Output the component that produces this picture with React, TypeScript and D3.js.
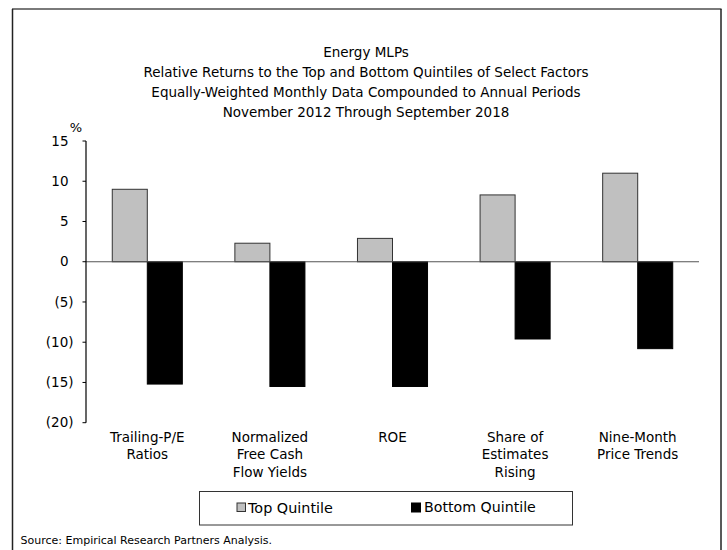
import React from "react";
import * as d3 from "d3";

const titleLines = [
  "Energy MLPs",
  "Relative Returns to the Top and Bottom Quintiles of Select Factors",
  "Equally-Weighted Monthly Data Compounded to Annual Periods",
  "November 2012 Through September 2018",
];
const categories = ["Trailing-P/E", "Normalized", "ROE", "Share of", "Nine-Month"];
const categoryLabels = [
  ["Trailing-P/E", "Ratios"],
  ["Normalized", "Free Cash", "Flow Yields"],
  ["ROE"],
  ["Share of", "Estimates", "Rising"],
  ["Nine-Month", "Price Trends"],
];
const seriesNames = ["Top Quintile", "Bottom Quintile"];
const topQuintile = [9.0, 2.3, 2.9, 8.3, 11.0];
const bottomQuintile = [-15.2, -15.5, -15.5, -9.6, -10.8];
const yTicks = [15, 10, 5, 0, -5, -10, -15, -20];
const sourceText = "Source: Empirical Research Partners Analysis.";

const W = 727;
const H = 550;
const FONT = "'DejaVu Sans', Verdana, sans-serif";
const fills = ["#c0c0c0", "#000000"];

export default function App() {
  const y = d3.scaleLinear().domain([-20, 15]).range([422.7, 141]);
  const x0 = d3.scaleBand<string>().domain(categories).range([86, 699]).padding(0);
  const x1 = d3
    .scaleBand<string>()
    .domain(seriesNames)
    .range([0, x0.bandwidth()])
    .paddingInner(0)
    .paddingOuter(0.75);
  const values = [topQuintile, bottomQuintile];
  const fmt = (v: number) => (v < 0 ? `(${Math.abs(v)})` : `${v}`);

  return (
    <svg
      width={W}
      height={H}
      style={{ position: "absolute", left: 0, top: 0, background: "#fff" }}
      fontFamily={FONT}
    >
      <rect x={0} y={0} width={W} height={H} fill="#fff" />
      {/* frame */}
      <line x1={12} x2={721.5} y1={9} y2={9} stroke="#7a7a7a" strokeWidth={2} />
      <line x1={12.5} x2={12.5} y1={9} y2={H} stroke="#222" strokeWidth={1.5} />
      <line x1={721} x2={721} y1={9} y2={H} stroke="#222" strokeWidth={1.5} />

      {/* title */}
      {titleLines.map((t, i) => (
        <text
          key={i}
          x={366}
          y={52 + i * 20}
          dy="0.35em"
          textAnchor="middle"
          fontSize={13.5}
          fill="#000"
        >
          {t}
        </text>
      ))}
      <text x={76} y={127} dy="0.35em" textAnchor="middle" fontSize={13} fill="#000">
        %
      </text>

      {/* y ticks */}
      {yTicks.map((t) => (
        <g key={t}>
          <line x1={82.5} x2={86} y1={y(t)} y2={y(t)} stroke="#000" strokeWidth={1} />
          <text
            x={t < 0 ? 73.5 : 68.5}
            y={y(t)}
            dy="0.35em"
            textAnchor="end"
            fontSize={13.5}
            fill="#000"
          >
            {fmt(t)}
          </text>
        </g>
      ))}

      {/* bars */}
      {categories.map((c, ci) => (
        <g key={c} transform={`translate(${x0(c)},0)`}>
          {seriesNames.map((s, si) => {
            const v = values[si][ci];
            const yTop = y(Math.max(0, v));
            const yBot = y(Math.min(0, v));
            return (
              <rect
                key={s}
                x={x1(s)}
                y={yTop}
                width={x1.bandwidth()}
                height={yBot - yTop}
                fill={fills[si]}
                stroke={si === 0 ? "#333" : "#000"}
                strokeWidth={1}
              />
            );
          })}
        </g>
      ))}

      {/* zero line and axis */}
      <line x1={86} x2={699} y1={y(0)} y2={y(0)} stroke="#555" strokeWidth={1.2} />
      <line x1={86} x2={86} y1={y(15)} y2={y(-20)} stroke="#000" strokeWidth={1.2} />

      {/* category labels */}
      {categories.map((c, ci) => (
        <text
          key={c}
          textAnchor="middle"
          fontSize={13.5}
          fill="#000"
        >
          {categoryLabels[ci].map((l, li) => (
            <tspan key={li} x={(x0(c) as number) + x0.bandwidth() / 2} y={437 + li * 17.5} dy="0.35em">
              {l}
            </tspan>
          ))}
        </text>
      ))}

      {/* legend */}
      <rect x={199.5} y={491.5} width={373} height={33.5} fill="#fff" stroke="#333" strokeWidth={1} />
      <rect x={237} y={503} width={8.5} height={8.5} fill={fills[0]} stroke="#333" strokeWidth={1} />
      <text x={248} y={507.5} dy="0.35em" fontSize={14.4} fill="#000">
        {seriesNames[0]}
      </text>
      <rect x={411.5} y={503} width={9} height={9} fill={fills[1]} stroke="#000" strokeWidth={1} />
      <text x={424} y={507.5} dy="0.35em" fontSize={14.2} fill="#000">
        {seriesNames[1]}
      </text>

      {/* source */}
      <text x={20.5} y={540.5} dy="0.35em" fontSize={11} fill="#000">
        {sourceText}
      </text>
    </svg>
  );
}
